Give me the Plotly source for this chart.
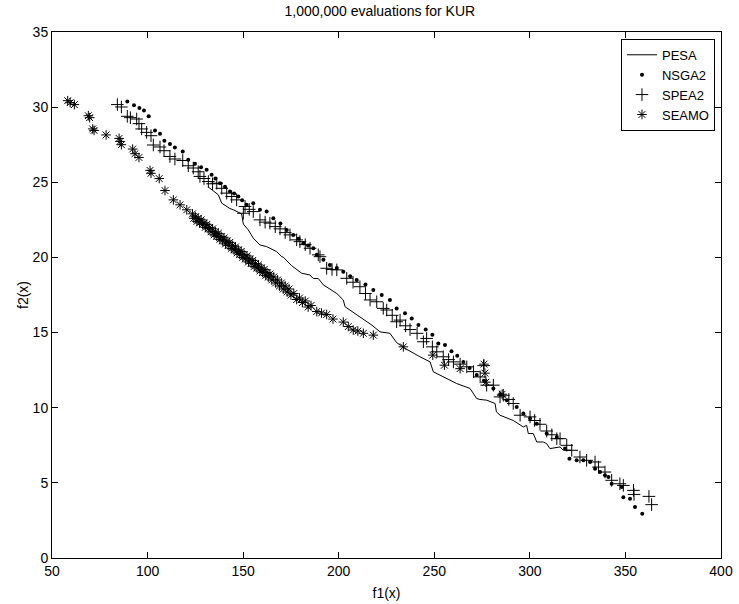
import plotly.graph_objects as go

# ---------------- data ----------------
pesa_f1 = [131.8, 137.0, 138.8, 143.1, 144.9, 149.2, 150.1, 152.7, 155.3, 158.8, 162.3,
           167.5, 170.2, 171.0, 175.4, 179.7, 180.6, 185.0, 186.7, 189.3, 192.0, 199.0,
           202.4, 203.3, 211.1, 217.3, 221.6, 225.1, 226.8, 230.3, 234.7, 242.5, 247.8,
           249.5, 253.0, 261.7, 268.7, 272.2, 273.9, 277.5, 281.8, 282.5, 284.4, 291.3,
           296.6, 298.3, 299.2, 301.8, 303.6, 307.0, 308.8, 310.5, 315.8, 317.5, 321.9]
pesa_f2 = [24.68, 24.17, 23.61, 23.25, 23.17, 22.90, 22.22, 21.83, 21.28, 20.83, 20.72,
           20.39, 20.05, 20.02, 19.45, 19.05, 18.95, 18.83, 18.60, 18.60, 18.17, 17.60,
           17.17, 16.72, 16.05, 15.50, 15.05, 14.95, 14.95, 14.33, 13.95, 13.39, 13.05,
           12.39, 12.17, 11.61, 11.28, 10.61, 10.55, 10.50, 10.28, 9.72, 9.50, 9.15,
           8.72, 8.83, 8.28, 8.28, 7.72, 7.72, 7.61, 7.28, 7.39, 7.17, 7.17]

nsga2_f1 = [89.4, 92.9, 95.7, 98.1, 100.6, 103.9, 106.5, 108.8, 111.7, 114.3, 118.4,
            121.3, 124.8, 128.0, 130.9, 133.5, 135.5, 137.9, 140.5, 143.1, 145.3, 147.5,
            149.5, 151.8, 155.3, 158.8, 162.3, 165.8, 169.5, 172.8, 176.2, 179.0, 181.5,
            184.0, 186.7, 188.5, 192.0, 195.4, 199.0, 202.4, 206.0, 209.4, 214.0, 218.1,
            222.5, 226.8, 230.3, 234.7, 238.2, 241.7, 245.5, 249.0, 252.1, 255.6, 259.0,
            262.0, 265.2, 268.5, 272.2, 276.0, 280.9, 284.5, 287.9, 293.1, 296.6, 300.1,
            303.6, 308.8, 314.1, 318.4, 320.7, 324.5, 328.0, 331.5, 334.1, 336.7, 339.3,
            341.1, 342.8, 348.1, 348.9, 352.4, 355.0, 358.8]
nsga2_f2 = [30.37, 30.12, 29.95, 29.77, 29.39, 28.45, 28.23, 27.77, 27.55, 27.32, 27.05,
            26.50, 26.23, 26.00, 25.83, 25.50, 25.25, 24.94, 24.70, 24.39, 24.25, 24.05,
            23.80, 23.50, 23.61, 23.17, 23.05, 22.61, 22.25, 21.83, 21.50, 21.25, 20.94,
            20.80, 20.61, 20.17, 19.85, 19.50, 19.30, 19.05, 18.75, 18.50, 18.20, 17.83,
            17.50, 17.17, 16.61, 16.28, 15.94, 15.50, 15.20, 14.85, 14.28, 14.17, 13.75,
            13.45, 13.05, 12.65, 12.17, 11.80, 11.28, 10.90, 10.50, 10.05, 9.61, 9.28,
            8.94, 8.28, 8.05, 7.28, 6.61, 6.50, 6.50, 6.39, 5.94, 5.72, 5.50,
            5.39, 4.94, 4.72, 4.05, 3.94, 3.39, 2.94]

spea2_f1 = [84.2, 86.3, 89.4, 91.0, 94.3, 95.5, 96.9, 99.5, 101.8, 103.0, 106.5, 108.6,
            111.7, 114.3, 118.4, 121.3, 123.9, 126.5, 127.4, 129.5, 131.8, 134.0, 136.2,
            138.8, 141.4, 144.0, 146.6, 150.1, 151.0, 153.2, 155.3, 158.8, 161.5, 164.0,
            166.8, 169.3, 172.0, 174.5, 178.0, 179.7, 182.5, 185.0, 189.3, 190.2, 193.7,
            196.5, 199.0, 204.2, 207.5, 211.1, 214.0, 216.4, 219.9, 223.3, 225.1, 228.0,
            230.3, 232.1, 235.0, 237.3, 241.0, 244.3, 246.0, 249.0, 251.3, 254.7, 257.5,
            260.0, 263.5, 267.0, 270.5, 274.0, 275.8, 277.4, 280.9, 284.4, 286.1, 289.0,
            291.3, 294.9, 300.1, 302.5, 305.3, 308.8, 311.5, 314.1, 315.8, 319.3, 321.9,
            326.2, 329.7, 334.1, 335.9, 339.3, 342.8, 347.1, 348.9, 354.2, 354.5, 362.3,
            363.7]
spea2_f2 = [30.17, 30.01, 29.39, 29.30, 29.21, 28.90, 28.55, 28.32, 28.10, 27.48, 27.35, 27.10,
            26.72, 26.55, 26.45, 26.10, 25.95, 25.70, 25.39, 25.25, 25.05, 24.90, 24.94,
            24.60, 24.28, 24.05, 23.83, 22.94, 23.39, 23.20, 23.05, 22.50, 22.35, 22.28,
            22.05, 21.90, 21.65, 21.50, 21.17, 21.05, 20.85, 20.61, 20.17, 20.05, 19.28,
            19.20, 19.17, 18.61, 18.35, 18.05, 17.60, 17.17, 17.05, 16.61, 16.50, 16.15,
            15.72, 15.83, 15.45, 15.20, 14.95, 14.39, 14.61, 14.05, 13.72, 13.39, 13.20,
            13.05, 12.90, 12.72, 12.40, 12.05, 12.80, 11.50, 11.50, 10.72, 10.83, 10.55,
            10.28, 9.50, 9.39, 9.15, 8.90, 8.45, 8.20, 7.94, 7.94, 7.50, 7.17,
            6.72, 6.50, 6.39, 6.05, 5.72, 5.17, 4.94, 4.83, 4.50, 4.23, 4.10,
            3.55]

seamo_f1 = [58.2, 59.5, 61.7, 69.0, 69.7, 71.3, 72.0, 78.3, 85.1, 85.6, 86.3, 92.2, 93.4,
            95.5, 101.3, 101.8, 106.1, 109.1, 113.5, 117.0, 120.5,
            123.5, 124.2, 125.0, 125.8, 126.5, 127.2, 128.0, 128.7, 129.5, 130.2, 131.0,
            131.7, 132.5, 133.2, 134.0, 134.8, 135.5, 136.2, 137.0, 137.8, 138.5, 139.2,
            140.0, 140.8, 141.5, 142.2, 143.0, 143.8, 144.5, 145.2, 146.0, 146.8, 147.5,
            148.2, 149.0, 149.8, 150.5, 151.2, 152.0, 152.8, 153.5, 154.2, 155.0, 155.8,
            156.5, 157.2, 158.0, 158.8, 159.5, 160.2, 161.0, 161.8, 162.5, 163.2, 164.0,
            165.0, 166.0, 167.0, 168.0, 169.0, 170.0, 171.0, 172.0, 173.0, 174.0, 175.0,
            176.5, 178.0, 179.5, 181.0, 182.5, 184.0, 185.5,
            188.5, 191.0, 193.7, 197.0, 202.4, 205.0, 207.6, 210.0, 212.9, 218.1,
            233.8, 249.2, 255.3, 263.5, 276.0, 276.5, 277.0, 285.5]
seamo_f2 = [30.43, 30.30, 30.17, 29.43, 29.30, 28.55, 28.45, 28.15, 27.92, 27.72, 27.50, 27.21, 26.90,
            26.65, 25.79, 25.60, 25.25, 24.45, 23.83, 23.50, 23.17,
            22.90, 22.60, 22.70, 22.40, 22.60, 22.30, 22.50, 22.20, 22.30, 22.00, 22.20,
            21.90, 22.00, 21.70, 21.90, 21.50, 21.70, 21.40, 21.60, 21.20, 21.40, 21.10,
            21.30, 20.90, 21.10, 20.80, 21.00, 20.60, 20.80, 20.50, 20.70, 20.30, 20.50,
            20.20, 20.40, 20.00, 20.20, 19.90, 20.10, 19.70, 19.90, 19.60, 19.80, 19.40,
            19.60, 19.30, 19.50, 19.10, 19.30, 19.00, 19.20, 18.80, 19.00, 18.70, 18.90,
            18.50, 18.70, 18.30, 18.50, 18.10, 18.30, 17.90, 18.10, 17.70, 17.90, 17.50,
            17.60, 17.20, 17.30, 17.00, 17.10, 16.70, 16.80,
            16.40, 16.30, 16.20, 15.90, 15.70, 15.40, 15.17, 15.10, 14.95, 14.83,
            14.05, 13.50, 12.83, 12.60, 12.90, 12.30, 11.70, 10.90]

x_ticks = [50, 100, 150, 200, 250, 300, 350, 400]
y_ticks = [0, 5, 10, 15, 20, 25, 30, 35]

FONT = "Liberation Sans, Arial, Helvetica, sans-serif"

fig = go.Figure()
fig.add_trace(go.Scatter(x=pesa_f1, y=pesa_f2, mode="lines", name="PESA",
                         line=dict(color="black", width=1)))
fig.add_trace(go.Scatter(x=nsga2_f1, y=nsga2_f2, mode="markers", name="NSGA2",
                         marker=dict(symbol="circle", size=4, color="black",
                                     line=dict(width=0))))
fig.add_trace(go.Scatter(x=spea2_f1, y=spea2_f2, mode="markers", name="SPEA2",
                         marker=dict(symbol="cross-thin-open", size=9, color="black",
                                     line=dict(width=1, color="black"))))
fig.add_trace(go.Scatter(x=seamo_f1, y=seamo_f2, mode="markers", name="SEAMO",
                         marker=dict(symbol="asterisk-open", size=8, color="black",
                                     line=dict(width=1, color="black"))))

axis_common = dict(showline=True, linecolor="black", linewidth=1, mirror="ticks",
                   ticks="inside", ticklen=6, tickcolor="black", tickwidth=1,
                   showgrid=False, zeroline=False,
                   tickfont=dict(family=FONT, size=14, color="black"))

fig.update_xaxes(range=[50, 400], tickvals=x_ticks, ticktext=[str(v) for v in x_ticks],
                 title=dict(text="f1(x)", font=dict(family=FONT, size=14, color="black"),
                            standoff=10),
                 **axis_common)
fig.update_yaxes(range=[0, 35], tickvals=y_ticks, ticktext=[str(v) for v in y_ticks],
                 title=dict(text="f2(x)", font=dict(family=FONT, size=14, color="black"),
                            standoff=0),
                 **axis_common)

fig.update_layout(
    width=739, height=604,
    margin=dict(l=52, r=18, t=32, b=46, autoexpand=False),
    paper_bgcolor="white", plot_bgcolor="white",
    font=dict(family=FONT, size=14, color="black"),
    title=dict(text="1,000,000 evaluations for KUR", x=0.49, xref="paper",
               xanchor="center", y=1 - 11 / 604, yref="container", yanchor="middle",
               font=dict(family=FONT, size=14, color="black")),
    legend=dict(x=0.991, y=0.987, xanchor="right", yanchor="top",
                bgcolor="white", bordercolor="black", borderwidth=1,
                font=dict(family=FONT, size=13, color="black"),
                itemwidth=30, tracegroupgap=0),
    showlegend=True,
)

fig.write_html("out.html",
               config={"displayModeBar": False},
               post_script="document.body.style.margin='0';"
                           "document.body.style.overflow='hidden';")
